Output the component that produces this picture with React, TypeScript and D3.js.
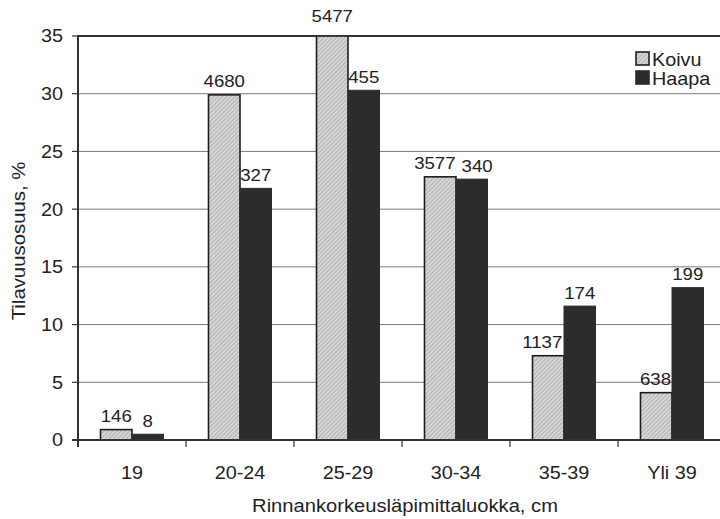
import React from "react";
import * as d3 from "d3";

const categories = ["19", "20-24", "25-29", "30-34", "35-39", "Yli 39"];
const seriesNames = ["Koivu", "Haapa"];
const koivuValues = [0.9, 29.9, 35.0, 22.8, 7.3, 4.1];
const haapaValues = [0.5, 21.8, 30.3, 22.6, 11.6, 13.2];
const koivuLabels = ["146", "4680", "5477", "3577", "1137", "638"];
const haapaLabels = ["8", "327", "455", "340", "174", "199"];
const yTicks = [0, 5, 10, 15, 20, 25, 30, 35];

const W = 720;
const H = 519;
const M = { left: 78, top: 36, bottomY: 440, rightExt: 726 };
const FONT = "'Liberation Sans', Arial, Helvetica, sans-serif";
const TEXT = "#222";
const LBL_SIZE = 16.5;
const LBL_SX = 1.13;

function T({ x, y, anchor = "middle", size = 17.5, sx = 1.12, rotate = 0, children }: any) {
  return (
    <g transform={`translate(${x},${y}) rotate(${rotate}) scale(${sx},1)`}>
      <text x={0} y={0} textAnchor={anchor} fontFamily={FONT} fontSize={size} fill={TEXT}>
        {children}
      </text>
    </g>
  );
}

const labelWidth = (s: string) => s.length * 0.556 * LBL_SIZE * LBL_SX;

export default function App() {
  const x0 = d3.scaleBand<string>().domain(categories).range([M.left, M.rightExt]).padding(0);
  const x1 = d3
    .scaleBand<string>()
    .domain(seriesNames)
    .range([0, x0.bandwidth()])
    .paddingInner(0)
    .paddingOuter(0.714);
  const y = d3.scaleLinear().domain([0, 35]).range([M.bottomY, M.top]);

  const series = [
    { name: "Koivu", values: koivuValues, labels: koivuLabels, fill: "url(#hatch)", stroke: "#1e1e1e", sw: 1.6 },
    { name: "Haapa", values: haapaValues, labels: haapaLabels, fill: "#2c2c2c", stroke: "#2c2c2c", sw: 1 },
  ];

  const boundaries = categories.map((c) => x0(c) as number).concat([M.rightExt]);

  // label placement with simple collision avoidance (like the original chart)
  const labelPos = categories.map((c, i) => {
    const bw = x1.bandwidth();
    const kx = (x0(c) as number) + (x1("Koivu") as number);
    const hx = (x0(c) as number) + (x1("Haapa") as number);
    const kv = koivuValues[i];
    const hv = haapaValues[i];
    const ky = kv >= 35 ? y(35) - 14 : y(kv) - 7.5;
    const hy = hv >= 35 ? y(35) - 14 : y(hv) - 7.5;
    let kc = kx + bw / 2;
    let hc = hx + bw / 2;
    const kw = labelWidth(koivuLabels[i]);
    const hw = labelWidth(haapaLabels[i]);
    // koivu label hits taller haapa bar
    if (y(hv) < ky && kc + kw / 2 > hx - 1) kc = hx - 1 - kw / 2;
    // labels at the same height overlap each other
    if (Math.abs(ky - hy) < 14) {
      const overlap = kc + kw / 2 + 6 - (hc - hw / 2);
      if (overlap > 0) {
        kc -= overlap / 2;
        hc += overlap / 2;
      }
    }
    return { kc, ky, hc, hy };
  });

  return (
    <svg width={W} height={H} style={{ position: "absolute", left: 0, top: 0, background: "#fff" }}>
      <defs>
        <pattern id="hatch" patternUnits="userSpaceOnUse" width={3} height={3} patternTransform="rotate(45)">
          <rect width={3} height={3} fill="#d6d6d6" />
          <line x1={0} y1={0} x2={0} y2={3} stroke="#959595" strokeWidth={1.1} />
        </pattern>
        <clipPath id="plotClip">
          <rect x={M.left} y={M.top} width={M.rightExt - M.left} height={M.bottomY - M.top} />
        </clipPath>
      </defs>
      <rect width={W} height={H} fill="#fff" />

      {/* gridlines */}
      {yTicks
        .filter((t) => t > 0 && t < 35)
        .map((t) => (
          <line key={t} x1={M.left} x2={W} y1={y(t)} y2={y(t)} stroke="#7a7a7a" strokeWidth={1} />
        ))}
      {/* top border */}
      <line x1={M.left} x2={W} y1={M.top} y2={M.top} stroke="#333" strokeWidth={2.2} />

      {/* bars */}
      <g clipPath="url(#plotClip)">
        {series.map((s) =>
          categories.map((c, i) => {
            const bx = (x0(c) as number) + (x1(s.name) as number);
            const by = y(s.values[i]);
            return (
              <rect
                key={s.name + c}
                x={bx}
                y={by}
                width={x1.bandwidth()}
                height={M.bottomY - by}
                fill={s.fill}
                stroke={s.stroke}
                strokeWidth={s.sw}
              />
            );
          })
        )}
      </g>

      {/* value labels */}
      {categories.map((c, i) => (
        <g key={"lbl" + c}>
          <T x={labelPos[i].kc} y={labelPos[i].ky} size={LBL_SIZE} sx={LBL_SX}>
            {koivuLabels[i]}
          </T>
          <T x={labelPos[i].hc} y={labelPos[i].hy} size={LBL_SIZE} sx={LBL_SX}>
            {haapaLabels[i]}
          </T>
        </g>
      ))}

      {/* axes */}
      <line x1={M.left} x2={M.left} y1={M.top - 1} y2={M.bottomY + 7} stroke="#333" strokeWidth={2} />
      <line x1={M.left - 6} x2={W} y1={M.bottomY} y2={M.bottomY} stroke="#333" strokeWidth={2.2} />
      {yTicks.map((t) => (
        <g key={"yt" + t}>
          <line x1={M.left - 6} x2={M.left} y1={y(t)} y2={y(t)} stroke="#333" strokeWidth={1.2} />
          <T x={63} y={y(t) + 6.4} anchor="end" size={17.7} sx={1.12}>
            {String(t)}
          </T>
        </g>
      ))}
      {boundaries.map((b, i) => (
        <line key={"xt" + i} x1={b} x2={b} y1={M.bottomY} y2={M.bottomY + 7} stroke="#333" strokeWidth={1.2} />
      ))}
      {categories.map((c) => (
        <T key={"xl" + c} x={(x0(c) as number) + x0.bandwidth() / 2} y={479} size={17.7} sx={1.12}>
          {c}
        </T>
      ))}

      {/* axis titles */}
      <T x={405} y={512} size={18.5} sx={1.09}>
        Rinnankorkeusläpimittaluokka, cm
      </T>
      <T x={25} y={241} size={18.5} sx={1.1} rotate={-90}>
        Tilavuusosuus, %
      </T>

      {/* legend */}
      {series.map((s, i) => (
        <g key={"lg" + s.name}>
          <rect
            x={636}
            y={52 + i * 19}
            width={13}
            height={13}
            fill={s.fill}
            stroke={i === 0 ? "#1e1e1e" : "#2c2c2c"}
            strokeWidth={1.6}
          />
          <T x={652} y={65.5 + i * 19} anchor="start" size={18} sx={1.1}>
            {s.name}
          </T>
        </g>
      ))}
    </svg>
  );
}
